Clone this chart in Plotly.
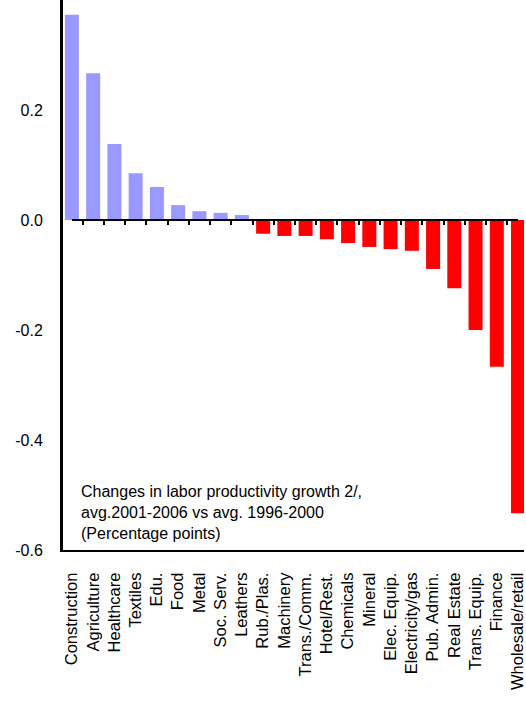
import plotly.graph_objects as go

categories = ["Construction","Agriculture","Healthcare","Textiles","Edu.","Food","Metal","Soc. Serv.","Leathers",
              "Rub./Plas.","Machinery","Trans./Comm.","Hotel/Rest.","Chemicals","Mineral","Elec. Equip.",
              "Electricity/gas","Pub. Admin.","Real Estate","Trans. Equip.","Finance","Wholesale/retail"]
values = [0.373,0.267,0.138,0.085,0.06,0.027,0.016,0.013,0.009,
          -0.025,-0.029,-0.029,-0.035,-0.042,-0.049,-0.053,-0.056,-0.089,-0.124,-0.2,-0.267,-0.533]
ytick_vals = [-0.6, -0.4, -0.2, 0.0, 0.2, 0.4]
ytick_text = ["-0.6", "-0.4", "-0.2", "0.0", "0.2", "0.4"]
colors = ["#9999ff" if v > 0 else "#ff0000" for v in values]

xr = [-0.42, 21.28]
fig = go.Figure()
fig.add_bar(x=categories, y=values, marker_color=colors, width=0.66, marker_line_width=0)
fig.add_scatter(x=categories, y=[0]*len(categories), xaxis="x2", mode="lines",
                line=dict(color="black", width=2), hoverinfo="skip")
fig.update_layout(
    width=526, height=715, showlegend=False, autosize=False,
    plot_bgcolor="white", paper_bgcolor="white",
    margin=dict(l=63, r=0, t=0, b=165, pad=0),
    font=dict(family="Arial, Liberation Sans", color="black"),
    xaxis=dict(range=xr, tickangle=-90, tickfont=dict(size=16.5), showline=True,
               linecolor="black", linewidth=2, ticks="", showgrid=False, ticklabelstandoff=14),
    xaxis2=dict(overlaying="x", anchor="free", position=0.6, side="bottom",
                showticklabels=False, ticks="outside", ticklen=4, tickwidth=2, tickcolor="black",
                tickson="boundaries", showline=False, showgrid=False, range=xr),
    yaxis=dict(range=[-0.6, 0.4], tickvals=ytick_vals, ticktext=ytick_text, showgrid=False, zeroline=False,
               showline=True, linecolor="black", linewidth=3, ticks="", tickfont=dict(size=16),
               ticklabelstandoff=14),
    annotations=[dict(x=0.33, y=-0.475, xref="x", yref="y", xanchor="left", yanchor="top", align="left",
                      showarrow=False, font=dict(size=16),
                      text="Changes in labor productivity growth 2/,<br>avg.2001-2006 vs avg. 1996-2000<br>(Percentage points)")],
)
fig.write_html("out.html", config={"displayModeBar": False},
               post_script="document.body.style.margin='0';document.body.style.overflow='hidden';")
